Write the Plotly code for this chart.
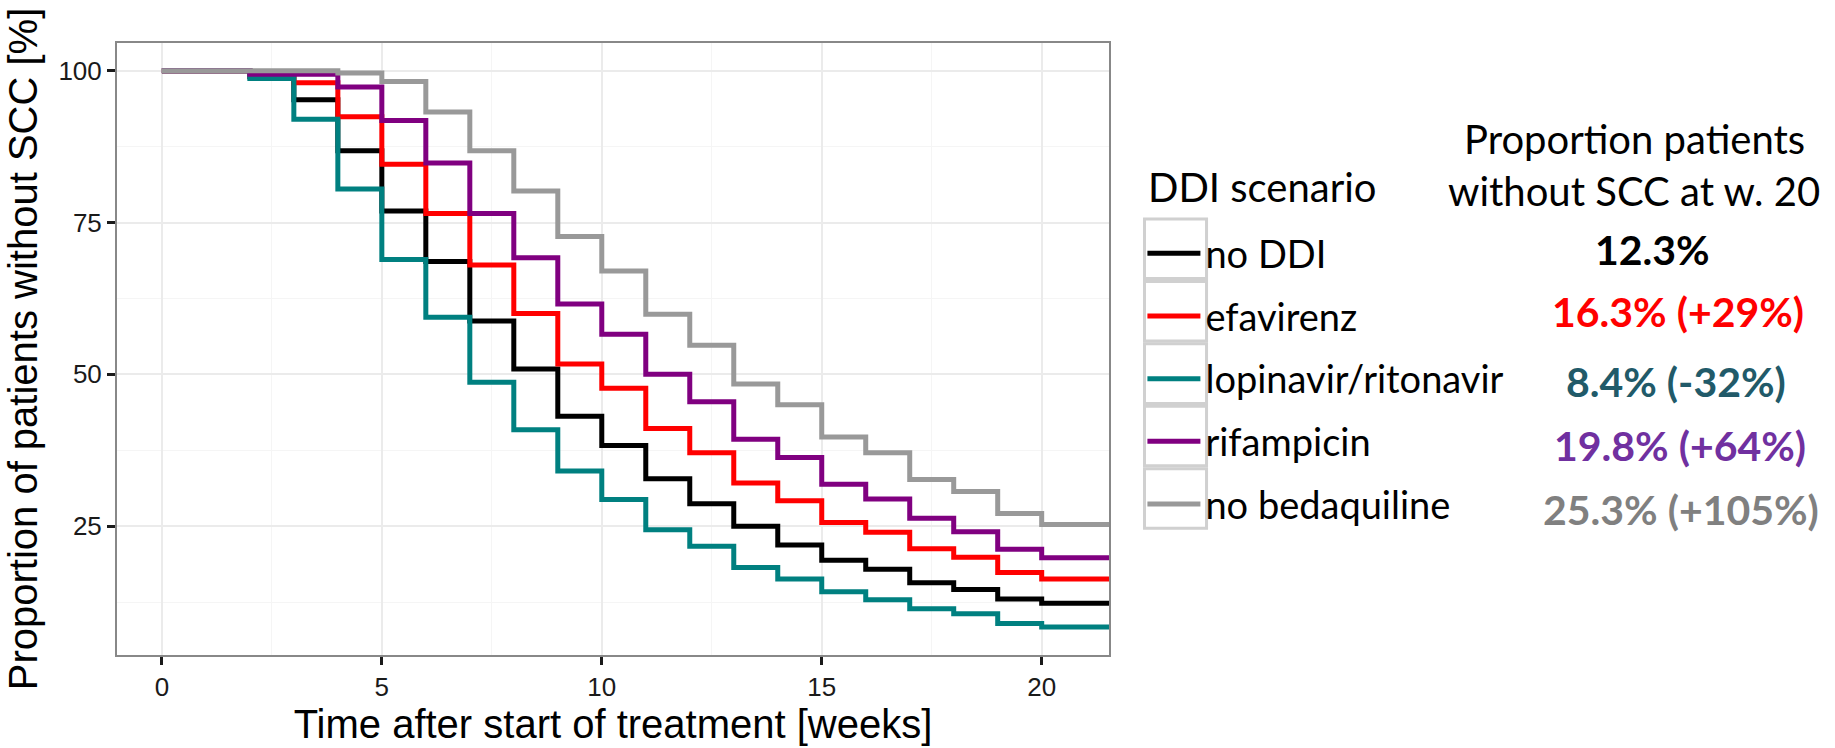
import plotly.graph_objects as go

# ---------------- data ----------------
weeks = [0, 1, 2, 3, 4, 5, 6, 7, 8, 9, 10, 11, 12, 13, 14, 15, 16, 17, 18, 19, 20, 21.6]

no_ddi = [100, 100, 99.0, 95.2, 86.8, 76.9, 68.6, 58.8, 50.9, 43.1, 38.3, 32.8, 28.7, 25.0,
          21.9, 19.4, 17.9, 15.7, 14.6, 13.0, 12.3, 12.3]
efavirenz = [100, 100, 99.6, 98.0, 92.4, 84.6, 76.5, 68.0, 60.0, 51.7, 47.7, 41.1, 37.1, 32.1,
             29.2, 25.6, 24.0, 21.3, 19.9, 17.4, 16.3, 16.3]
lopinavir = [100, 100, 98.7, 92.0, 80.5, 68.9, 59.4, 48.7, 40.9, 34.1, 29.4, 24.4, 21.7, 18.2,
             16.3, 14.2, 12.9, 11.4, 10.6, 9.0, 8.4, 8.4]
rifampicin = [100, 100, 99.4, 99.4, 97.3, 91.8, 84.8, 76.5, 69.2, 61.6, 56.6, 50.0, 45.5, 39.3,
              36.3, 31.9, 29.5, 26.3, 24.1, 21.2, 19.8, 19.8]
no_bedaquiline = [100, 100, 100, 100, 99.6, 98.2, 93.2, 86.8, 80.2, 72.7, 67.0, 59.9, 54.8, 48.4,
                  45.0, 39.7, 37.1, 32.7, 30.7, 27.1, 25.3, 25.3]

scenarios = ["no DDI", "efavirenz", "lopinavir/ritonavir", "rifampicin", "no bedaquiline"]
series = [no_ddi, efavirenz, lopinavir, rifampicin, no_bedaquiline]
line_colors = ["#000000", "#FF0000", "#008080", "#800080", "#999999"]

summary_labels = ["12.3%", "16.3% (+29%)", "8.4% (-32%)", "19.8% (+64%)", "25.3% (+105%)"]
summary_colors = ["#000000", "#FF0000", "#215A69", "#7030A0", "#808080"]

x_ticks = [0, 5, 10, 15, 20]
y_ticks = [25, 50, 75, 100]

# ---------------- layout geometry (pixels) ----------------
W, H = 1835, 748
PL, PR, PT, PB = 117.4, 1109.0, 43.3, 663.3


def px(xpix):
    return (xpix - PL) / (PR - PL)


def py(ypix):
    return (PB - ypix) / (PB - PT)


fig = go.Figure()
for name, vals, col in zip(scenarios, series, line_colors):
    fig.add_trace(go.Scatter(
        x=weeks, y=vals, mode="lines", name=name, legendgroup=name,
        line=dict(color=col, width=5, shape="hv"),
        hoverinfo="skip",
    ))

axis_common = dict(
    showline=True, linecolor="#888888", linewidth=2, mirror=True,
    ticks="outside", ticklen=8, tickwidth=3, tickcolor="#1a1a1a",
    tickfont=dict(family="Liberation Sans, Arial", size=26, color="#1a1a1a"),
    showgrid=True, gridcolor="#EBEBEB", gridwidth=1.5,
    zeroline=False,
)

fig.update_xaxes(
    range=[-1.02, 21.53], tickvals=x_ticks, **axis_common,
    minor=dict(showgrid=True, gridcolor="#F5F5F5", gridwidth=1,
               tickvals=[2.5, 7.5, 12.5, 17.5], ticks=""),
    title=dict(text="Time after start of treatment [weeks]",
               font=dict(family="Liberation Sans, Arial", size=40, color="#000000"),
               standoff=6),
)
fig.update_yaxes(
    range=[3.8, 104.55], tickvals=y_ticks, **axis_common,
    minor=dict(showgrid=True, gridcolor="#F5F5F5", gridwidth=1,
               tickvals=[12.5, 37.5, 62.5, 87.5], ticks=""),
    title=dict(text="Proportion of patients without SCC [%]",
               font=dict(family="Liberation Sans, Arial", size=40, color="#000000"),
               standoff=8),
)

# legend key boxes
shapes = []
box_top = 220.0
box_h = 63.3
for i in range(len(scenarios)):
    y0 = box_top + i * box_h
    shapes.append(dict(type="rect", xref="paper", yref="paper",
                       x0=px(1144.5), x1=px(1206.5), y0=py(y0 + 1.5), y1=py(y0 + box_h - 1.5),
                       line=dict(color="#D0D0D0", width=3), fillcolor="rgba(0,0,0,0)",
                       layer="below"))

annotations = []
annotations.append(dict(text="DDI scenario", x=px(1146), y=py(189), xref="paper", yref="paper",
                        showarrow=False, xanchor="left", yanchor="middle",
                        font=dict(family="Lato", size=40, color="#000000")))
annotations.append(dict(text="Proportion patients", x=px(1634), y=py(141), xref="paper", yref="paper",
                        showarrow=False, xanchor="center", yanchor="middle",
                        font=dict(family="Lato", size=40, color="#000000")))
annotations.append(dict(text="without SCC at w. 20", x=px(1634), y=py(193), xref="paper", yref="paper",
                        showarrow=False, xanchor="center", yanchor="middle",
                        font=dict(family="Lato", size=40, color="#000000")))
value_centers_x = [1652, 1678, 1676, 1680, 1681]
value_centers_y = [252, 315, 386, 451, 516]
for lab, col, cx, cy in zip(summary_labels, summary_colors, value_centers_x, value_centers_y):
    annotations.append(dict(text="<b>" + lab + "</b>", x=px(cx), y=py(cy), xref="paper", yref="paper",
                            showarrow=False, xanchor="center", yanchor="middle",
                            font=dict(family="Lato", size=41, color=col)))

fig.update_layout(
    width=W, height=H,
    margin=dict(l=PL, r=W - PR, t=PT, b=H - PB, pad=0),
    paper_bgcolor="white", plot_bgcolor="white",
    showlegend=True,
    legend=dict(
        x=px(1142.4), y=py(224.7), xanchor="left", yanchor="top",
        font=dict(family="Lato", size=38, color="#000000"),
        itemwidth=53, tracegroupgap=10.3, bgcolor="rgba(0,0,0,0)",
        traceorder="grouped",
    ),
    shapes=shapes,
    annotations=annotations,
)

fig.write_html("out.html")
